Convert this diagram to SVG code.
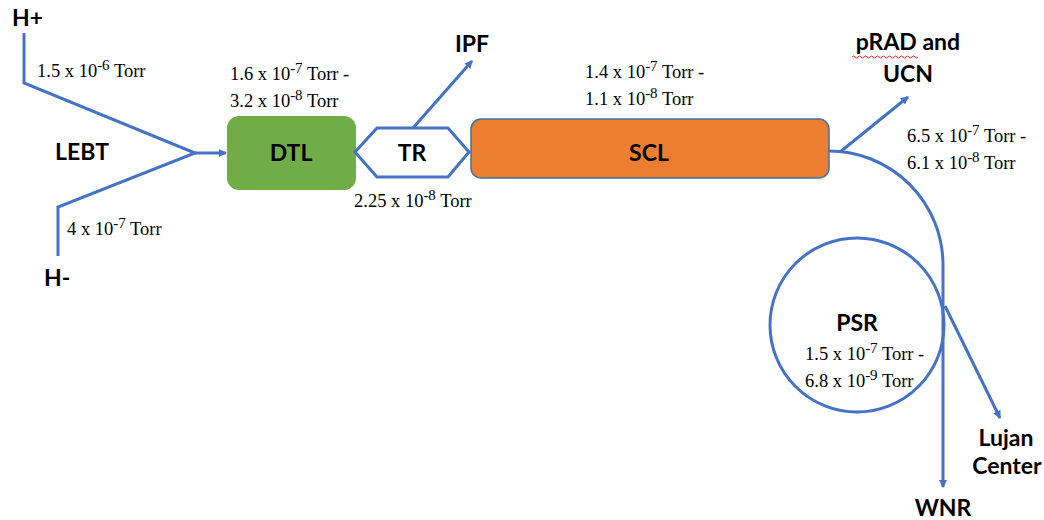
<svg xmlns="http://www.w3.org/2000/svg" width="1044" height="520" viewBox="0 0 1044 520">
<defs>
<marker id="ah" markerWidth="10" markerHeight="10" refX="7" refY="4" orient="auto" markerUnits="userSpaceOnUse">
<path d="M0,0 L8,4 L0,8 Z" fill="#4472C4"/>
</marker>
</defs>
<style>
.ln{fill:none;stroke:#4472C4;stroke-width:3}
.lb{font-family:Lato,"Open Sans","Liberation Sans",sans-serif;font-weight:bold;font-size:23px;fill:#000}
.pr{font-family:"Liberation Serif",serif;font-size:18.5px;fill:#000}
.sp{font-size:15px}
</style>
<rect width="1044" height="520" fill="#fff"/>
<g id="connectors">
<polyline class="ln" points="24,33 24,83 195,153 58,207 58,256"/>
<line class="ln" x1="195" y1="153" x2="226" y2="153" marker-end="url(#ah)"/>
<line class="ln" x1="413" y1="128" x2="472" y2="61" marker-end="url(#ah)"/>
<line class="ln" x1="840" y1="152" x2="908" y2="97" marker-end="url(#ah)"/>
<path class="ln" d="M829,151 A114,114 0 0 1 943,265 L943,487" marker-end="url(#ah)"/>
<line class="ln" x1="945" y1="306" x2="1000" y2="418" marker-end="url(#ah)"/>
</g>
<g id="H+"><text class="lb" x="12" y="26">H+</text></g>
<g id="H-"><text class="lb" x="44" y="286">H-</text></g>
<g id="LEBT"><text class="lb" x="55" y="160">LEBT</text></g>
<text class="pr" x="37" y="77">1.5 x 10<tspan class="sp" dy="-7">-6</tspan><tspan dy="7"> Torr</tspan></text>
<text class="pr" x="67" y="235">4 x 10<tspan class="sp" dy="-7">-7</tspan><tspan dy="7"> Torr</tspan></text>
<g id="DTL">
<rect x="227" y="116" width="129" height="74" rx="12" fill="#70AD47"/>
<text class="lb" x="291" y="161" text-anchor="middle">DTL</text>
</g>
<text class="pr" x="230" y="80">1.6 x 10<tspan class="sp" dy="-7">-7</tspan><tspan dy="7"> Torr -</tspan></text>
<text class="pr" x="230" y="107">3.2 x 10<tspan class="sp" dy="-7">-8</tspan><tspan dy="7"> Torr</tspan></text>
<g id="TR">
<polygon points="355,152 377,128 448,128 469,152 448,177 377,177" fill="#fff" stroke="#4472C4" stroke-width="3"/>
<text class="lb" x="412" y="161" text-anchor="middle">TR</text>
</g>
<text class="pr" x="354" y="207">2.25 x 10<tspan class="sp" dy="-7">-8</tspan><tspan dy="7"> Torr</tspan></text>
<g id="IPF"><text class="lb" x="472" y="52" text-anchor="middle">IPF</text></g>
<g id="SCL">
<rect x="471" y="119" width="358" height="59" rx="10" fill="#ED7D31" stroke="#41719C" stroke-width="1.5"/>
<text class="lb" x="649" y="161" text-anchor="middle">SCL</text>
</g>
<text class="pr" x="585" y="78">1.4 x 10<tspan class="sp" dy="-7">-7</tspan><tspan dy="7"> Torr -</tspan></text>
<text class="pr" x="585" y="105">1.1 x 10<tspan class="sp" dy="-7">-8</tspan><tspan dy="7"> Torr</tspan></text>
<g id="pRAD">
<text class="lb" x="908" y="50" text-anchor="middle">pRAD and</text>
<text class="lb" x="908" y="82" text-anchor="middle">UCN</text>
<path d="M852,57 q1.5,-2 3,0 t3,0 t3,0 t3,0 t3,0 t3,0 t3,0 t3,0 t3,0 t3,0 t3,0 t3,0 t3,0 t3,0 t3,0 t3,0 t3,0 t3,0 t3,0 t3,0 t3,0 t3,0" fill="none" stroke="#E02020" stroke-width="1"/>
</g>
<text class="pr" x="907" y="142">6.5 x 10<tspan class="sp" dy="-7">-7</tspan><tspan dy="7"> Torr -</tspan></text>
<text class="pr" x="907" y="169">6.1 x 10<tspan class="sp" dy="-7">-8</tspan><tspan dy="7"> Torr</tspan></text>
<g id="PSR">
<circle cx="857" cy="325" r="87" fill="none" stroke="#4472C4" stroke-width="3"/>
<text class="lb" x="857" y="331" text-anchor="middle">PSR</text>
<text class="pr" x="805" y="360">1.5 x 10<tspan class="sp" dy="-7">-7</tspan><tspan dy="7"> Torr -</tspan></text>
<text class="pr" x="805" y="387">6.8 x 10<tspan class="sp" dy="-7">-9</tspan><tspan dy="7"> Torr</tspan></text>
</g>
<g id="Lujan">
<text class="lb" x="1006" y="446" text-anchor="middle">Lujan</text>
<text class="lb" x="1007" y="474" text-anchor="middle">Center</text>
</g>
<g id="WNR"><text class="lb" x="943" y="516" text-anchor="middle">WNR</text></g>
</svg>
